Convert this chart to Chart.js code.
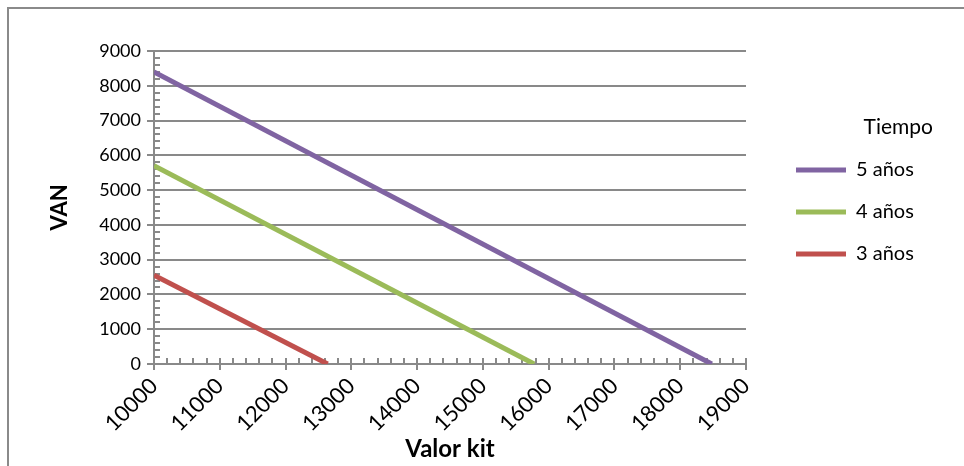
<!DOCTYPE html>
<html><head><meta charset="utf-8">
<script src="https://cdn.jsdelivr.net/npm/chart.js@4/dist/chart.umd.min.js"></script>
<style>
html,body{margin:0;padding:0;background:#fff;overflow:hidden}
#wrap{position:relative;width:964px;height:466px}
#frame{position:absolute;left:7px;top:7px;width:1000px;height:500px;border-left:2px solid #8a8a8a;border-top:2px solid #8a8a8a;pointer-events:none}
canvas{position:absolute;left:0;top:0}
</style></head><body>
<div id="wrap"><canvas id="c" width="964" height="466"></canvas><div id="frame"></div></div>
<script>
// ---- data ----
const seriesLabels = ['5 años', '4 años', '3 años'];
const kit5 = [10000, 18480];
const van5 = [8400, 0];
const kit4 = [10000, 15780];
const van4 = [5700, 0];
const kit3 = [10000, 12640];
const van3 = [2550, 0];
const seriesColors = ['#8064A2', '#9BBB59', '#C0504D'];
const xTicks = [10000, 11000, 12000, 13000, 14000, 15000, 16000, 17000, 18000, 19000];
const yTicks = [0, 1000, 2000, 3000, 4000, 5000, 6000, 7000, 8000, 9000];
const xMinorStep = 200;
const yMinorStep = 200;
const xTitle = 'Valor kit';
const yTitle = 'VAN';
const legendTitle = 'Tiempo';

const GRAY = '#898989';
const FONT = 'Lato, "Open Sans", sans-serif';

const toPts = (xs, ys) => xs.map((x, i) => ({x: x, y: ys[i]}));
const kits = [kit5, kit4, kit3];
const vans = [van5, van4, van3];

const minorTicks = {
  id: 'minorTicks',
  beforeDatasetsDraw(chart) {
    const ctx = chart.ctx, xs = chart.scales.x, ys = chart.scales.y;
    const x0 = xs.left, y0 = ys.bottom;
    ctx.save();
    ctx.strokeStyle = GRAY; ctx.lineWidth = 2;
    ctx.beginPath();
    const yMin = yTicks[0], yMax = yTicks[yTicks.length - 1];
    for (let v = yMin; v <= yMax; v += yMinorStep) {
      if (yTicks.includes(v)) continue;
      const py = Math.round(ys.getPixelForValue(v));
      ctx.moveTo(x0, py); ctx.lineTo(x0 + 6, py);
    }
    const xMin = xTicks[0], xMax = xTicks[xTicks.length - 1];
    for (let v = xMin; v <= xMax; v += xMinorStep) {
      const px = Math.round(xs.getPixelForValue(v));
      ctx.moveTo(px, y0); ctx.lineTo(px, y0 - 6);
    }
    ctx.stroke();
    ctx.restore();
  }
};

const legendWidth = {
  id: 'legendWidth',
  beforeLayout(chart) {
    const lg = chart.legend;
    if (lg && !lg.__patched) {
      const fit = lg.fit;
      lg.fit = function () { fit.call(this); this.width = 159; };
      lg.__patched = true;
    }
  }
};

function draw() {
  new Chart(document.getElementById('c'), {
    type: 'scatter',
    data: {
      datasets: seriesLabels.map((lab, i) => ({
        label: lab,
        data: toPts(kits[i], vans[i]),
        showLine: true,
        borderColor: seriesColors[i],
        backgroundColor: seriesColors[i],
        borderWidth: 5,
        borderCapStyle: 'butt',
        pointRadius: 0,
        pointHoverRadius: 0,
        tension: 0
      }))
    },
    options: {
      responsive: false,
      animation: false,
      devicePixelRatio: 1,
      layout: {padding: {top: 51, right: 31, bottom: 0, left: 0}},
      plugins: {
        tooltip: {enabled: false},
        legend: {
          position: 'right',
          align: 'start',
          labels: {
            boxWidth: 50, boxHeight: 5, padding: 22,
            font: {family: FONT, size: 20}, color: '#000',
            generateLabels(chart) {
              const items = Chart.defaults.plugins.legend.labels.generateLabels(chart);
              items.forEach(it => { it.lineWidth = 0; });
              return items;
            }
          },
          title: {
            display: true, text: legendTitle, position: 'end',
            font: {family: FONT, size: 21, lineHeight: 1}, color: '#000',
            padding: {top: 66, bottom: 0}
          }
        }
      },
      scales: {
        x: {
          type: 'linear', position: 'bottom',
          min: xTicks[0], max: xTicks[xTicks.length - 1],
          afterFit(s) { s.height = 102; },
          afterBuildTicks(s) { s.ticks = xTicks.map(v => ({value: v})); },
          ticks: {
            minRotation: 45, maxRotation: 45, autoSkip: false,
            font: {family: FONT, size: 22}, color: '#000', padding: 3,
            callback: v => String(v)
          },
          grid: {display: true, drawOnChartArea: false, drawTicks: true, tickLength: 6, color: GRAY, lineWidth: 2},
          border: {display: true, color: GRAY, width: 2},
          title: {display: true, text: xTitle, font: {family: FONT, size: 24, weight: 'bold'}, color: '#000', padding: {top: 0, bottom: 2}}
        },
        y: {
          type: 'linear', position: 'left',
          min: yTicks[0], max: yTicks[yTicks.length - 1],
          afterFit(s) { s.width = 154; },
          afterBuildTicks(s) { s.ticks = yTicks.map(v => ({value: v})); },
          ticks: {font: {family: FONT, size: 18}, color: '#000', padding: 6, callback: v => String(v)},
          grid: {color: GRAY, lineWidth: 2, tickLength: 7},
          border: {display: true, color: GRAY, width: 2},
          title: {display: true, text: yTitle, font: {family: FONT, size: 22, weight: 'bold'}, color: '#000', padding: {top: 47, bottom: 0}}
        },
        gap: {
          type: 'linear', position: 'right', display: true,
          afterFit(s) { s.width = 28; },
          ticks: {display: false}, grid: {display: false}, border: {display: false}
        }
      }
    },
    plugins: [minorTicks, legendWidth]
  });
}

Promise.all([
  document.fonts.load('18px Lato'),
  document.fonts.load('bold 21px Lato')
]).then(draw, draw);
</script>
</body></html>
